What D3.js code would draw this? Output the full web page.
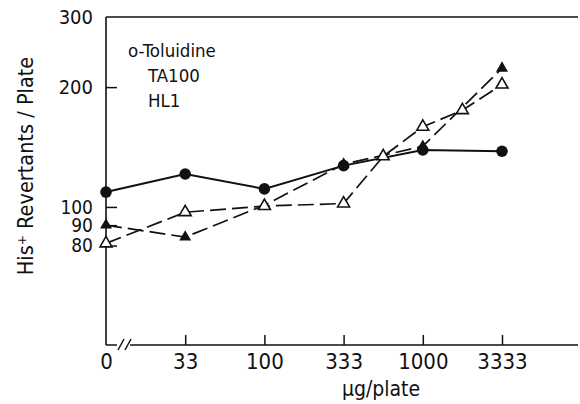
<!DOCTYPE html>
<html>
<head>
<meta charset="utf-8">
<script src="https://cdn.jsdelivr.net/npm/d3@7"></script>
<style>
  html, body { margin: 0; padding: 0; background: #fff; }
  svg { display: block; }
  text { font-family: "DejaVu Sans Condensed", "Liberation Sans Narrow", "DejaVu Sans", sans-serif; fill: #111; }
</style>
</head>
<body>
<script>
// Dose categories (equally spaced on the x axis, 0 sits past a break)
const doseLabels = ["0", "33", "100", "333", "1000", "3333"];
const doseIndex = [0, 1, 2, 3, 4, 5];

// Revertants per plate
const circleValues = [109, 121, 111, 127, 139, 138];
const filledTriValues = [90, 84, 101, 128, 142, 223];
// open-triangle series also has doses between 333/1000 and 1000/3333
const openTriIndex = [0, 1, 2, 3, 3.5, 4, 4.5, 5];
const openTriValues = [81, 97, 100.5, 102, 134, 159, 175, 203];

const yTicks = [80, 90, 100, 200, 300];
const legendLines = ["o-Toluidine", "TA100", "HL1"];

const W = 580, H = 404;
const plotLeft = 106, plotRight = 578, plotTop = 17, plotBottom = 345;

const svg = d3.select("body").append("svg").attr("width", W).attr("height", H);

const x = d3.scaleLinear().domain([0, 5]).range([106, 502]);
const y = d3.scaleLog().domain([45, 300]).range([plotBottom, plotTop]);

// frame: left axis, top rule, bottom axis with break
svg.append("line").attr("x1", plotLeft).attr("x2", plotLeft).attr("y1", plotTop).attr("y2", plotBottom)
  .attr("stroke", "#111").attr("stroke-width", 1.6);
svg.append("line").attr("x1", plotLeft).attr("x2", plotRight).attr("y1", plotTop).attr("y2", plotTop)
  .attr("stroke", "#111").attr("stroke-width", 1.4);
svg.append("line").attr("x1", plotLeft).attr("x2", plotRight).attr("y1", plotBottom).attr("y2", plotBottom)
  .attr("stroke", "#111").attr("stroke-width", 1.6);
// axis break "//"
svg.append("rect").attr("x", 117).attr("y", plotBottom - 3).attr("width", 13).attr("height", 6).attr("fill", "#fff");
[118, 125].forEach(bx => {
  svg.append("line").attr("x1", bx).attr("y1", plotBottom + 5).attr("x2", bx + 6).attr("y2", plotBottom - 6)
    .attr("stroke", "#111").attr("stroke-width", 1.5);
});

// y axis: inward ticks, labels on the left
const yAxis = d3.axisLeft(y).tickValues(yTicks).tickSize(-11).tickPadding(13)
  .tickFormat(d3.format("d"));
const gy = svg.append("g").attr("transform", `translate(${plotLeft},0)`).call(yAxis);
gy.select(".domain").remove();
gy.selectAll(".tick line").attr("stroke", "#111").attr("stroke-width", 1.5)
  .filter(d => d === 300).remove();
gy.selectAll(".tick text").attr("font-size", d => d >= 200 ? 20 : 19).attr("fill", "#111")
  .attr("font-family", "'DejaVu Sans Condensed', 'Liberation Sans Narrow', sans-serif");

// x axis: inward ticks, no tick at 0
const xAxis = d3.axisBottom(x).tickValues(doseIndex).tickSize(-10).tickPadding(8)
  .tickFormat(i => doseLabels[i]);
const gx = svg.append("g").attr("transform", `translate(0,${plotBottom})`).call(xAxis);
gx.select(".domain").remove();
gx.selectAll(".tick line").attr("stroke", "#111").attr("stroke-width", 1.5)
  .filter(d => d === 0).remove();
gx.selectAll(".tick text").attr("font-size", 22).attr("fill", "#111")
  .attr("font-family", "'DejaVu Sans Condensed', 'Liberation Sans Narrow', sans-serif");

// axis titles
svg.append("text").attr("x", 381).attr("y", 396).attr("text-anchor", "middle")
  .attr("font-size", 21).text("μg/plate");
svg.append("text").attr("transform", "translate(33,166) rotate(-90)")
  .attr("text-anchor", "middle").attr("font-size", 21.5)
  .text("His\u207A Revertants / Plate");

// legend text
svg.append("g").selectAll("text").data(legendLines).join("text")
  .attr("x", (d, i) => i === 0 ? 128 : 148)
  .attr("y", (d, i) => 57 + i * 25)
  .attr("font-size", 18.5)
  .text(d => d);

const line = d3.line().x(d => x(d[0])).y(d => y(d[1]));

const circlePts = doseIndex.map((d, i) => [d, circleValues[i]]);
const filledPts = doseIndex.map((d, i) => [d, filledTriValues[i]]);
const openPts = openTriIndex.map((d, i) => [d, openTriValues[i]]);

svg.append("path").datum(filledPts).attr("d", line).attr("fill", "none")
  .attr("stroke", "#111").attr("stroke-width", 1.7).attr("stroke-dasharray", "16,6");
svg.append("path").datum(openPts).attr("d", line).attr("fill", "none")
  .attr("stroke", "#111").attr("stroke-width", 1.7).attr("stroke-dasharray", "16,6");
svg.append("path").datum(circlePts).attr("d", line).attr("fill", "none")
  .attr("stroke", "#111").attr("stroke-width", 2);

const tri = d3.symbol().type(d3.symbolTriangle).size(62);

svg.append("g").selectAll("circle").data(circlePts).join("circle")
  .attr("cx", d => x(d[0])).attr("cy", d => y(d[1])).attr("r", 5.8).attr("fill", "#111");
svg.append("g").selectAll("path").data(filledPts).join("path")
  .attr("d", tri).attr("transform", d => `translate(${x(d[0])},${y(d[1])})`)
  .attr("fill", "#111");
svg.append("g").selectAll("path").data(openPts).join("path")
  .attr("d", tri).attr("transform", d => `translate(${x(d[0])},${y(d[1])})`)
  .attr("fill", "#fff").attr("stroke", "#111").attr("stroke-width", 1.6);
</script>
</body>
</html>
